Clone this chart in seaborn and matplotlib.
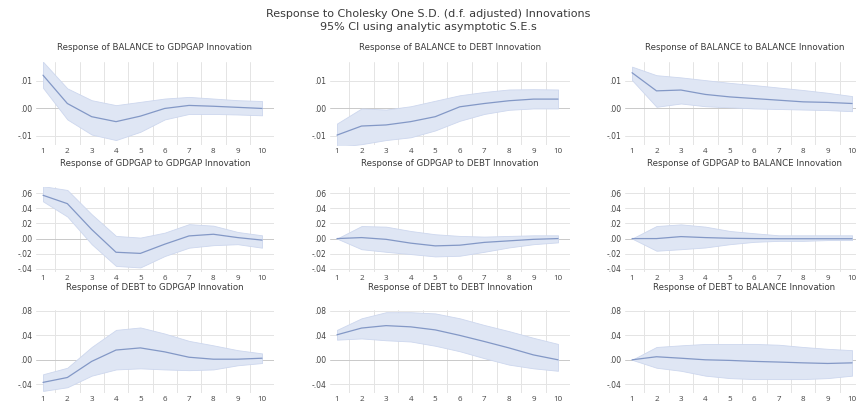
import numpy as np
import pandas as pd
import matplotlib
matplotlib.use("Agg")
import matplotlib.pyplot as plt
from matplotlib.ticker import FuncFormatter, FixedLocator
import seaborn as sns

# === Data ===
periods = list(range(1, 11))
variables = ["BALANCE", "GDPGAP", "DEBT"]
shocks = ["GDPGAP", "DEBT", "BALANCE"]

# response of BALANCE
bal_gdp = [0.0121, 0.0018, -0.0030, -0.0048, -0.0028, 0.0000, 0.0011, 0.0008, 0.0004, 0.0000]
bal_gdp_hi = [0.0170, 0.0073, 0.0030, 0.0012, 0.0024, 0.0036, 0.0042, 0.0036, 0.0030, 0.0027]
bal_gdp_lo = [0.0075, -0.0040, -0.0095, -0.0115, -0.0085, -0.0040, -0.0020, -0.0020, -0.0022, -0.0025]

bal_debt = [-0.0097, -0.0064, -0.0060, -0.0048, -0.0030, 0.0006, 0.0018, 0.0028, 0.0034, 0.0034]
bal_debt_hi = [-0.0055, 0.0000, -0.0004, 0.0008, 0.0028, 0.0048, 0.0060, 0.0069, 0.0070, 0.0069]
bal_debt_lo = [-0.0140, -0.0130, -0.0115, -0.0105, -0.0080, -0.0045, -0.0020, -0.0005, 0.0000, 0.0000]

bal_bal = [0.0130, 0.0064, 0.0067, 0.0051, 0.0042, 0.0036, 0.0030, 0.0024, 0.0022, 0.0018]
bal_bal_hi = [0.0152, 0.0121, 0.0113, 0.0103, 0.0093, 0.0085, 0.0076, 0.0067, 0.0057, 0.0045]
bal_bal_lo = [0.0103, 0.0006, 0.0018, 0.0008, 0.0004, 0.0000, -0.0002, -0.0004, -0.0006, -0.0010]

# response of GDPGAP
gdp_gdp = [0.057, 0.046, 0.012, -0.018, -0.0195, -0.0074, 0.0035, 0.0057, 0.0013, -0.002]
gdp_gdp_hi = [0.069, 0.064, 0.032, 0.0035, 0.0013, 0.0078, 0.019, 0.017, 0.0087, 0.0043]
gdp_gdp_lo = [0.049, 0.029, -0.0074, -0.036, -0.038, -0.023, -0.012, -0.0087, -0.0074, -0.012]

gdp_debt = [0.0, 0.0013, -0.001, -0.006, -0.0096, -0.0087, -0.005, -0.003, -0.001, 0.0]
gdp_debt_hi = [0.0, 0.0165, 0.0157, 0.010, 0.0057, 0.0035, 0.0026, 0.0035, 0.0043, 0.0043]
gdp_debt_lo = [0.0, -0.014, -0.0174, -0.0204, -0.0235, -0.0226, -0.0174, -0.0117, -0.0074, -0.005]

gdp_bal = [0.0, 0.0, 0.0026, 0.0013, 0.0004, 0.0, -0.0002, -0.0002, -0.0002, -0.0002]
gdp_bal_hi = [0.0, 0.0165, 0.0187, 0.0157, 0.010, 0.007, 0.0043, 0.0043, 0.0043, 0.0043]
gdp_bal_lo = [0.0, -0.016, -0.014, -0.0117, -0.0074, -0.0043, -0.003, -0.003, -0.002, -0.002]

# response of DEBT
debt_gdp = [-0.037, -0.029, -0.0026, 0.016, 0.0195, 0.013, 0.0042, 0.001, 0.001, 0.0026]
debt_gdp_hi = [-0.0237, -0.013, 0.021, 0.049, 0.053, 0.043, 0.031, 0.0237, 0.0158, 0.0105]
debt_gdp_lo = [-0.051, -0.045, -0.026, -0.0158, -0.014, -0.0158, -0.017, -0.0158, -0.009, -0.0053]

debt_debt = [0.041, 0.052, 0.056, 0.054, 0.049, 0.040, 0.030, 0.0195, 0.008, 0.0]
debt_debt_hi = [0.049, 0.068, 0.078, 0.078, 0.076, 0.068, 0.057, 0.047, 0.036, 0.026]
debt_debt_lo = [0.033, 0.035, 0.032, 0.030, 0.023, 0.014, 0.0026, -0.0079, -0.014, -0.018]

debt_bal = [0.0, 0.005, 0.0026, 0.0, -0.001, -0.0026, -0.0037, -0.005, -0.006, -0.005]
debt_bal_hi = [0.0, 0.021, 0.0237, 0.026, 0.026, 0.026, 0.0247, 0.021, 0.018, 0.0158]
debt_bal_lo = [0.0, -0.013, -0.018, -0.026, -0.030, -0.0316, -0.0316, -0.0316, -0.030, -0.026]

responses = [
    [(bal_gdp, bal_gdp_lo, bal_gdp_hi), (bal_debt, bal_debt_lo, bal_debt_hi), (bal_bal, bal_bal_lo, bal_bal_hi)],
    [(gdp_gdp, gdp_gdp_lo, gdp_gdp_hi), (gdp_debt, gdp_debt_lo, gdp_debt_hi), (gdp_bal, gdp_bal_lo, gdp_bal_hi)],
    [(debt_gdp, debt_gdp_lo, debt_gdp_hi), (debt_debt, debt_debt_lo, debt_debt_hi), (debt_bal, debt_bal_lo, debt_bal_hi)],
]

row_ticks = [[-0.01, 0.0, 0.01], [-0.04, -0.02, 0.0, 0.02, 0.04, 0.06], [-0.04, 0.0, 0.04, 0.08]]
row_ylim = [(-0.0133, 0.0169), (-0.044, 0.0679), (-0.0544, 0.0816)]

# === Style ===
sns.set_style("white")
plt.rcParams["font.family"] = ["Open Sans", "DejaVu Sans"]

W, H = 856, 404
fig = plt.figure(figsize=(W / 100, H / 100), dpi=100)

LINE = "#8398c6"
BAND = "#dfe6f4"
GRID = "#e4e4e4"
TXT = "#3a3a3a"

# axes boxes in pixels: (left, width) per column, (top, bottom) per row
cols = [(35.7, 238.5), (329.6, 240.7), (624.7, 239.6)]
rows = [(62, 145), (187, 272), (310, 393)]
title_y = [47, 163, 288]


def short_fmt(v, pos):
    s = f"{abs(v):.2f}".replace("0.", ".")
    return ("-" + s) if v < -1e-9 else s


fmt = FuncFormatter(short_fmt)

for i, var in enumerate(variables):
    top, bot = rows[i]
    for j, shock in enumerate(shocks):
        left, width = cols[j]
        ax = fig.add_axes([left / W, 1 - bot / H, width / W, (bot - top) / H])
        resp, lo, hi = responses[i][j]
        df = pd.DataFrame({"period": periods, "resp": resp})

        ax.fill_between(periods, lo, hi, color=BAND, lw=0.6, edgecolor="#cdd7ee", zorder=2)
        sns.lineplot(data=df, x="period", y="resp", ax=ax, color=LINE, lw=0.9, zorder=3)

        ax.set_xlim(0.7, 10.5)
        ax.set_ylim(*row_ylim[i])
        ax.set_xticks(periods)
        ax.xaxis.set_minor_locator(FixedLocator([p + 0.5 for p in periods[:-1]]))
        ax.set_yticks(row_ticks[i])
        ax.yaxis.set_major_formatter(fmt)
        ax.grid(False)
        ax.grid(which="minor", axis="x", color=GRID, lw=0.7, zorder=1)
        for t in row_ticks[i]:
            ax.axhline(t, color="#c9c9c9" if t == 0 else GRID, lw=0.7, zorder=1)
        ax.tick_params(which="both", length=0, labelsize=5.8, colors="#444444", pad=2.5)
        for lab in ax.get_yticklabels():
            lab.set_family("DejaVu Sans")
            lab.set_fontsize(5.5)
        for s in ax.spines.values():
            s.set_visible(False)
        ax.set_xlabel("")
        ax.set_ylabel("")
        cx = (left + width / 2) / W
        fig.text(cx, 1 - title_y[i] / H, f"Response of {var} to {shock} Innovation",
                 ha="center", va="center", fontsize=6.2, color=TXT, family="DejaVu Sans")

fig.text(0.5, 1 - 14 / H, "Response to Cholesky One S.D. (d.f. adjusted) Innovations",
         ha="center", va="center", fontsize=8, color=TXT, family="DejaVu Sans")
fig.text(0.5, 1 - 27 / H, "95% CI using analytic asymptotic S.E.s",
         ha="center", va="center", fontsize=8, color=TXT, family="DejaVu Sans")

fig.savefig("out.png", dpi=100, facecolor="white")
